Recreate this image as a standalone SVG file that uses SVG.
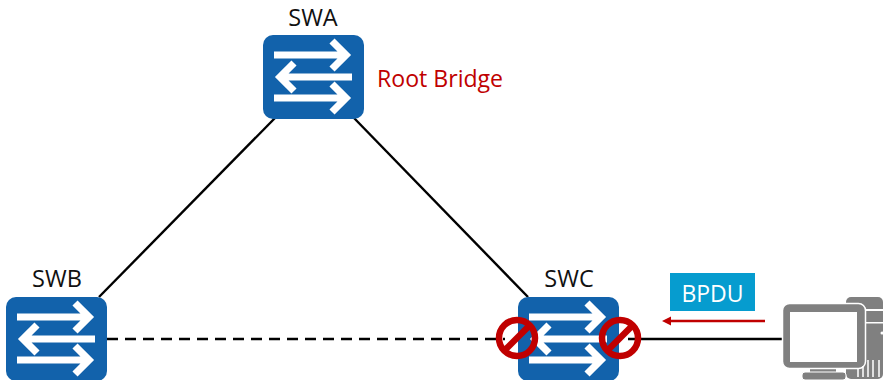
<svg xmlns="http://www.w3.org/2000/svg" width="883" height="380" viewBox="0 0 883 380">
<defs>
<style>
.lbl{font-family:"Open Sans","Noto Sans","Liberation Sans",sans-serif;font-size:23.500px;fill:#111}
.link{stroke:#000;stroke-width:2.4;fill:none}
.arr{stroke:#fff;stroke-width:7.2;fill:none}
.no{fill:none;stroke:#c00000;stroke-width:6.5}
.pc{fill:#808080}
</style>
<g id="sw">
<rect x="0" y="0" width="101" height="84" rx="10" fill="#1262ab"/>
<path class="arr" d="M11 20H83M69 6L83 20L69 34"/>
<path class="arr" d="M89 42H17M31 28L17 42L31 56"/>
<path class="arr" d="M11 63H83M69 49L83 63L69 77"/>
</g>
<g id="nosign">
<circle cx="0" cy="0" r="18" class="no"/>
<path class="no" d="M-13 13L13 -13"/>
</g>
</defs>
<rect width="883" height="380" fill="#fff"/>
<g id="connectors">
<path class="link" d="M275 118L99 297"/>
<path class="link" d="M354 118L528 297"/>
<path class="link" stroke-dasharray="11 7" d="M107 339H505"/>
<path class="link" d="M628 339H785"/>
<path d="M765 321H668" stroke="#c00000" stroke-width="2.6" fill="none"/>
<path d="M662 321L671 316.500V325.500Z" fill="#c00000"/>
</g>
<g id="SWA"><use href="#sw" x="263" y="35"/><text class="lbl" x="313" y="26" text-anchor="middle">SWA</text></g>
<text id="root-label" x="377" y="87" font-family="'Open Sans','Noto Sans','Liberation Sans',sans-serif" font-size="23.100" fill="#c00000">Root Bridge</text>
<g id="SWB"><use href="#sw" x="6" y="297"/><text class="lbl" x="57" y="287" text-anchor="middle">SWB</text></g>
<g id="SWC"><use href="#sw" x="518" y="297"/><text class="lbl" x="569" y="287" text-anchor="middle">SWC</text>
<use href="#nosign" x="517" y="338"/><use href="#nosign" x="620" y="338"/></g>
<g id="BPDU"><rect x="670" y="273" width="85" height="38" fill="#069ccf"/><text x="712.500" y="302" text-anchor="middle" font-family="'Open Sans','Noto Sans','Liberation Sans',sans-serif" font-size="23" fill="#fff">BPDU</text></g>
<g id="PC">
<rect class="pc" x="846" y="297" width="37" height="82" rx="5"/>
<rect x="866" y="309" width="17" height="2" fill="#fff"/>
<rect x="866" y="322" width="17" height="1.500" fill="#fff"/>
<circle cx="882" cy="333" r="1.500" fill="#fff"/>
<rect class="pc" x="810" y="366" width="26" height="7"/>
<rect class="pc" x="802" y="372" width="44" height="8" rx="3" stroke="#fff" stroke-width="1"/>
<rect class="pc" x="782.500" y="303.500" width="83" height="65" rx="7" stroke="#fff" stroke-width="1.500"/>
<rect x="790" y="312" width="67" height="50" fill="#fff"/>
<path d="M858 369V377M863 366V377M868 360V377M873 360V377M879 360V377" stroke="#fff" stroke-width="1.500"/>
</g>
</svg>
